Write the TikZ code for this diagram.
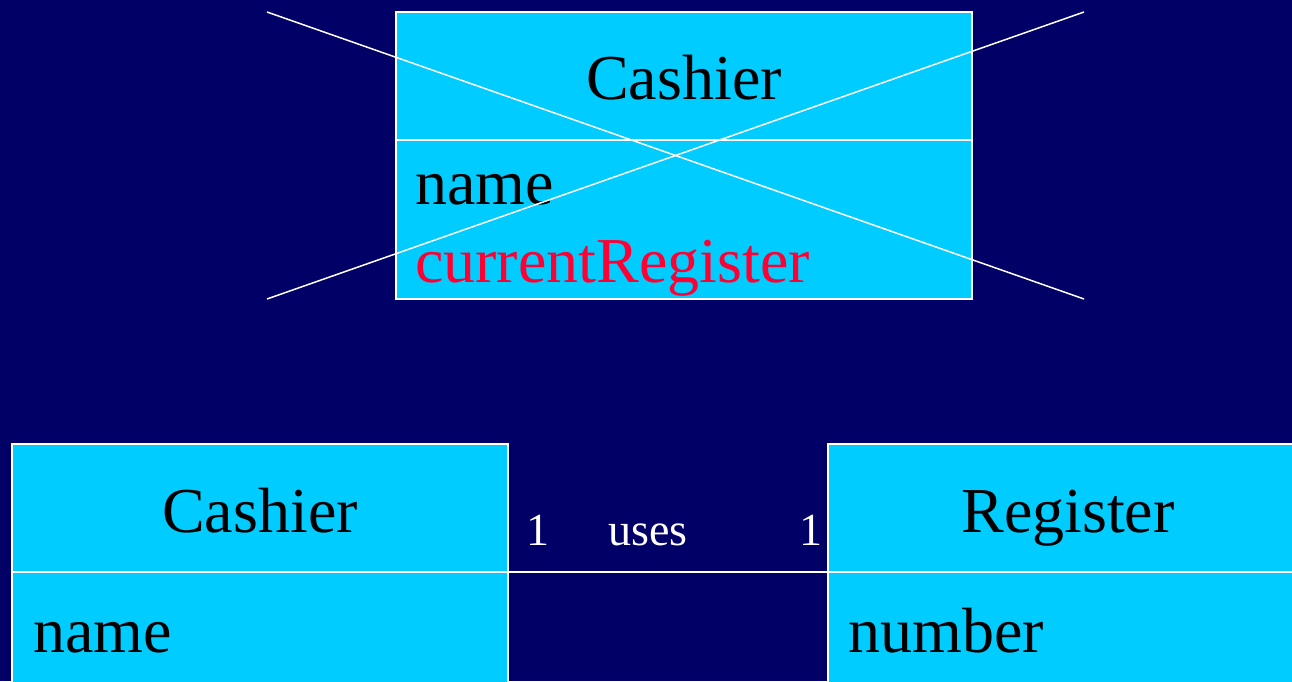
\documentclass[tikz,border=0pt]{standalone}
\usepackage{fontspec}
\setmainfont{Liberation Serif}
\definecolor{bg}{HTML}{000066}
\definecolor{boxc}{HTML}{00CCFF}
\definecolor{attrred}{HTML}{FF0033}
\begin{document}
\begin{tikzpicture}[x=1pt,y=-1pt,
  compart/.style={draw=white, fill=boxc, line width=1.5pt, inner sep=0pt,
    outer sep=0pt, anchor=north west},
  big/.style={font=\fontsize{64pt}{70pt}\selectfont, inner sep=0pt, text=black},
  small/.style={font=\fontsize{46pt}{50pt}\selectfont, inner sep=0pt, text=white},
  wire/.style={draw=white, line width=1.5pt}]
\useasboundingbox (0,0) rectangle (1292,681);
\fill[bg] (0,0) rectangle (1292,681);
\clip (0,0) rectangle (1292,681);

% crossed-out class
\node[compart, minimum width=576pt, minimum height=128pt] (th) at (396,12) {};
\node[compart, minimum width=576pt, minimum height=159pt] (ta) at (396,140) {};
\node[big, anchor=base] (thl) at (684,99) {Cashier};
\node[big, anchor=base west] (ta1) at (415,204) {name};
\node[big, anchor=base west, text=attrred] (ta2) at (415,282) {currentRegister};
\coordinate (xa) at (267,12);
\coordinate (xb) at (1084,299);
\coordinate (xc) at (267,299);
\coordinate (xd) at (1084,12);
\draw[wire] (xa) -- (xb);
\draw[wire] (xc) -- (xd);

% Cashier class
\node[compart, minimum width=496pt, minimum height=128pt] (bh) at (12,444) {};
\node[compart, minimum width=496pt, minimum height=160pt] (ba) at (12,572) {};
\node[big, anchor=base] (bhl) at (260,532) {Cashier};
\node[big, anchor=base west] (ba1) at (33,652) {name};

% Register class
\node[compart, minimum width=500pt, minimum height=128pt] (rh) at (828,444) {};
\node[compart, minimum width=500pt, minimum height=160pt] (ra) at (828,572) {};
\node[big, anchor=base] (rhl) at (1068,532) {Register};
\node[big, anchor=base west] (ra1) at (848,652) {number};

% association
\draw[wire] (bh.south east) -- (rh.south west);
\node[small, anchor=base] (m1) at (538,545) {1};
\node[small, anchor=base] (asn) at (648,545) {uses};
\node[small, anchor=base] (m2) at (811,545) {1};
\end{tikzpicture}
\end{document}
